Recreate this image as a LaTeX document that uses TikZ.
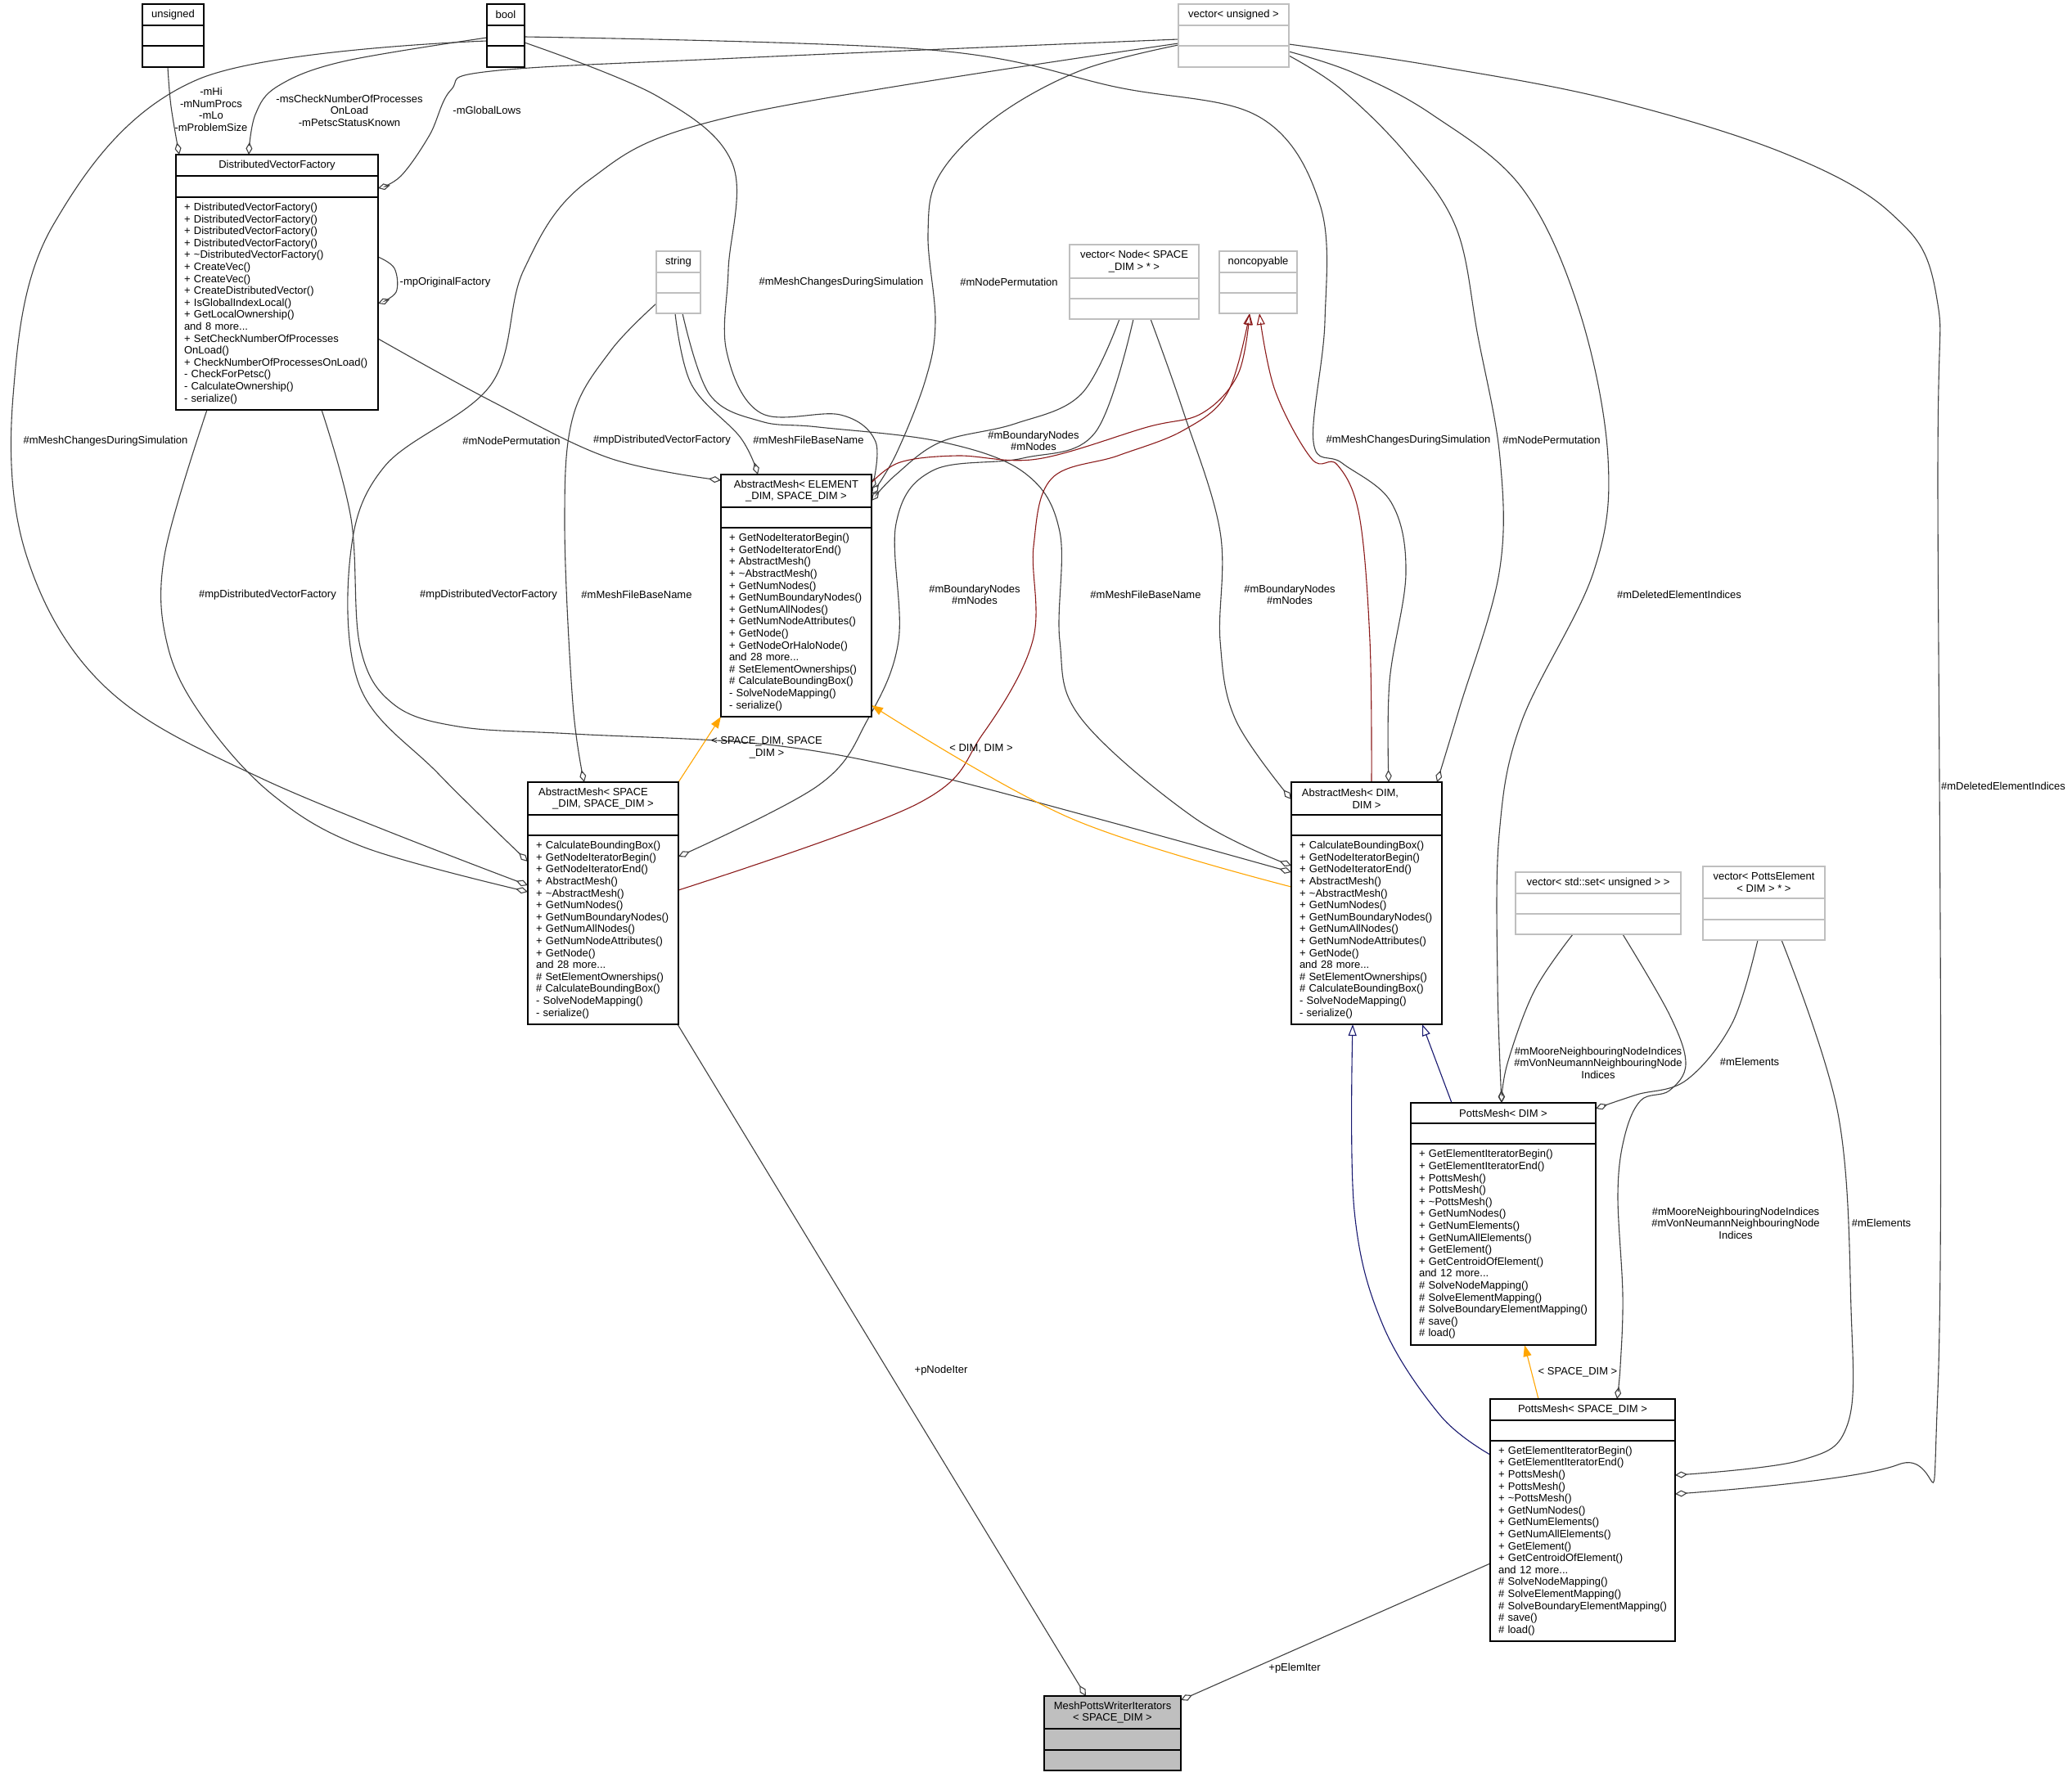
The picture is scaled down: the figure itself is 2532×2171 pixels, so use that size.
\documentclass[tikz,border=0pt]{standalone}
\usepackage{fontspec}
\setmainfont{Liberation Sans}
\usetikzlibrary{arrows.meta,positioning}

\definecolor{edgegray}{HTML}{404040}
\definecolor{inhred}{HTML}{8B1A1A}
\definecolor{inhblue}{HTML}{191970}
\definecolor{tmplorange}{HTML}{FFA500}
\definecolor{boxgray}{HTML}{BFBFBF}

\pgfdeclarelayer{back}
\pgfdeclarelayer{edges}
\pgfsetlayers{back,edges,main}

\newcommand{\umlfont}{\fontsize{13pt}{14.6pt}\selectfont}

\newcommand{\dvfops}{%
+~DistributedVectorFactory()\\
+~DistributedVectorFactory()\\
+~DistributedVectorFactory()\\
+~DistributedVectorFactory()\\
+~\textasciitilde DistributedVectorFactory()\\
+~CreateVec()\\
+~CreateVec()\\
+~CreateDistributedVector()\\
+~IsGlobalIndexLocal()\\
+~GetLocalOwnership()\\
and~8~more...\\
+~SetCheckNumberOfProcesses\\
OnLoad()\\
+~CheckNumberOfProcessesOnLoad()\\
-~CheckForPetsc()\\
-~CalculateOwnership()\\
-~serialize()}

\newcommand{\elemops}{%
+~GetNodeIteratorBegin()\\
+~GetNodeIteratorEnd()\\
+~AbstractMesh()\\
+~\textasciitilde AbstractMesh()\\
+~GetNumNodes()\\
+~GetNumBoundaryNodes()\\
+~GetNumAllNodes()\\
+~GetNumNodeAttributes()\\
+~GetNode()\\
+~GetNodeOrHaloNode()\\
and~28~more...\\
\#~SetElementOwnerships()\\
\#~CalculateBoundingBox()\\
-~SolveNodeMapping()\\
-~serialize()}

\newcommand{\meshops}{%
+~CalculateBoundingBox()\\
+~GetNodeIteratorBegin()\\
+~GetNodeIteratorEnd()\\
+~AbstractMesh()\\
+~\textasciitilde AbstractMesh()\\
+~GetNumNodes()\\
+~GetNumBoundaryNodes()\\
+~GetNumAllNodes()\\
+~GetNumNodeAttributes()\\
+~GetNode()\\
and~28~more...\\
\#~SetElementOwnerships()\\
\#~CalculateBoundingBox()\\
-~SolveNodeMapping()\\
-~serialize()}

\newcommand{\pottsops}{%
+~GetElementIteratorBegin()\\
+~GetElementIteratorEnd()\\
+~PottsMesh()\\
+~PottsMesh()\\
+~\textasciitilde PottsMesh()\\
+~GetNumNodes()\\
+~GetNumElements()\\
+~GetNumAllElements()\\
+~GetElement()\\
+~GetCentroidOfElement()\\
and~12~more...\\
\#~SolveNodeMapping()\\
\#~SolveElementMapping()\\
\#~SolveBoundaryElementMapping()\\
\#~save()\\
\#~load()}

\begin{document}
\begin{tikzpicture}[x=1pt, y=-1pt, every node/.style={font=\umlfont},
    clsbox/.style={draw=black, line width=1.4pt, fill=white, inner sep=0pt, outer sep=0pt, align=center},
    extbox/.style={clsbox, draw=boxgray},
    ops/.style={clsbox, align=left, text width=#1},
    lbl/.style={inner sep=0pt, align=center},
    member/.style={edgegray, line width=1.1pt, smooth, tension=0.6, -{Diamond[open, length=15pt, width=8pt]}},
    base/.style={line width=1.1pt, smooth, tension=0.6, -{Triangle[open, length=14pt, width=10pt]}},
    tmpl/.style={tmplorange, line width=1.1pt, smooth, tension=0.6, -{Triangle[length=14pt, width=10pt]}}]

\useasboundingbox (0,0) rectangle (2532,2171);
\begin{pgfonlayer}{back}
  \fill[white] (0,0) rectangle (2532,2171);
\end{pgfonlayer}

% top row
\node[clsbox, anchor=north west, minimum width=75pt, minimum height=26pt] (unsigned) at (174,5) {unsigned};
\node[clsbox, below=0pt of unsigned, minimum width=75pt, minimum height=25pt] (unsigned-a) {};
\node[clsbox, below=0pt of unsigned-a, minimum width=75pt, minimum height=26pt] (unsigned-m) {};

\node[clsbox, anchor=north west, minimum width=46pt, minimum height=26pt] (bool) at (595,5) {bool};
\node[clsbox, below=0pt of bool, minimum width=46pt, minimum height=25pt] (bool-a) {};
\node[clsbox, below=0pt of bool-a, minimum width=46pt, minimum height=26pt] (bool-m) {};

\node[extbox, anchor=north west, minimum width=135pt, minimum height=26pt] (vecuns) at (1440,5) {vector< unsigned >};
\node[extbox, below=0pt of vecuns, minimum width=135pt, minimum height=25pt] (vecuns-a) {};
\node[extbox, below=0pt of vecuns-a, minimum width=135pt, minimum height=26pt] (vecuns-m) {};

% factory
\node[clsbox, anchor=north west, minimum width=247pt, minimum height=26pt] (dvf) at (215,189) {DistributedVectorFactory};
\node[clsbox, below=0pt of dvf, minimum width=247pt, minimum height=26pt] (dvf-a) {};
\node[ops=227pt, below=0pt of dvf-a, minimum width=247pt, minimum height=260pt] (dvf-m) {\dvfops};

% member types
\node[extbox, anchor=north west, minimum width=54pt, minimum height=26pt] (string) at (802,307) {string};
\node[extbox, below=0pt of string, minimum width=54pt, minimum height=25pt] (string-a) {};
\node[extbox, below=0pt of string-a, minimum width=54pt, minimum height=25pt] (string-m) {};

\node[extbox, anchor=north west, minimum width=158pt, minimum height=41pt] (vecnode) at (1307,299) {vector< Node< SPACE\\\_DIM > * >};
\node[extbox, below=0pt of vecnode, minimum width=158pt, minimum height=25pt] (vecnode-a) {};
\node[extbox, below=0pt of vecnode-a, minimum width=158pt, minimum height=25pt] (vecnode-m) {};

\node[extbox, anchor=north west, minimum width=95pt, minimum height=26pt] (noncop) at (1490,307) {noncopyable};
\node[extbox, below=0pt of noncop, minimum width=95pt, minimum height=25pt] (noncop-a) {};
\node[extbox, below=0pt of noncop-a, minimum width=95pt, minimum height=25pt] (noncop-m) {};

% abstract meshes
\node[clsbox, anchor=north west, minimum width=184pt, minimum height=40pt] (ame) at (881,580) {AbstractMesh< ELEMENT\\\_DIM, SPACE\_DIM >};
\node[clsbox, below=0pt of ame, minimum width=184pt, minimum height=25pt] (ame-a) {};
\node[ops=164pt, below=0pt of ame-a, minimum width=184pt, minimum height=231pt] (ame-m) {\elemops};

\node[clsbox, anchor=north west, minimum width=184pt, minimum height=40pt] (ams) at (645,956) {AbstractMesh< SPACE\hspace*{24pt}\\\_DIM, SPACE\_DIM >};
\node[clsbox, below=0pt of ams, minimum width=184pt, minimum height=25pt] (ams-a) {};
\node[ops=164pt, below=0pt of ams-a, minimum width=184pt, minimum height=231pt] (ams-m) {\meshops};

\node[clsbox, anchor=north west, minimum width=184pt, minimum height=40pt] (amd) at (1578,956) {AbstractMesh< DIM,\hspace*{40pt}\\DIM >};
\node[clsbox, below=0pt of amd, minimum width=184pt, minimum height=25pt] (amd-a) {};
\node[ops=164pt, below=0pt of amd-a, minimum width=184pt, minimum height=231pt] (amd-m) {\meshops};

% potts side
\node[extbox, anchor=north west, minimum width=202pt, minimum height=26pt] (vecset) at (1852,1066) {vector< std::set< unsigned > >};
\node[extbox, below=0pt of vecset, minimum width=202pt, minimum height=25pt] (vecset-a) {};
\node[extbox, below=0pt of vecset-a, minimum width=202pt, minimum height=25pt] (vecset-m) {};

\node[extbox, anchor=north west, minimum width=149pt, minimum height=39pt] (vecelem) at (2081,1059) {vector< PottsElement\\< DIM > * >};
\node[extbox, below=0pt of vecelem, minimum width=149pt, minimum height=26pt] (vecelem-a) {};
\node[extbox, below=0pt of vecelem-a, minimum width=149pt, minimum height=25pt] (vecelem-m) {};

\node[clsbox, anchor=north west, minimum width=226pt, minimum height=25pt] (pmd) at (1724,1348) {PottsMesh< DIM >};
\node[clsbox, below=0pt of pmd, minimum width=226pt, minimum height=25pt] (pmd-a) {};
\node[ops=206pt, below=0pt of pmd-a, minimum width=226pt, minimum height=246pt] (pmd-m) {\pottsops};

\node[clsbox, anchor=north west, minimum width=226pt, minimum height=26pt] (pms) at (1821,1710) {PottsMesh< SPACE\_DIM >};
\node[clsbox, below=0pt of pms, minimum width=226pt, minimum height=25pt] (pms-a) {};
\node[ops=206pt, below=0pt of pms-a, minimum width=226pt, minimum height=245pt] (pms-m) {\pottsops};

% the class itself
\node[clsbox, fill=boxgray, anchor=north west, minimum width=167pt, minimum height=40pt] (writer) at (1276,2073) {MeshPottsWriterIterators\\< SPACE\_DIM >};
\node[clsbox, fill=boxgray, below=0pt of writer, minimum width=167pt, minimum height=26pt] (writer-a) {};
\node[clsbox, fill=boxgray, below=0pt of writer-a, minimum width=167pt, minimum height=25pt] (writer-m) {};

\begin{pgfonlayer}{edges}
% into the factory
\draw[member] plot coordinates {(205,0 |- unsigned-m.south) (209,130) (219,0 |- dvf.north)};
\draw[member] plot coordinates {(bool-a.west |- 0,46) (420,75) (340,105) (312,140) (304,0 |- dvf.north)};
\draw[member] plot coordinates {(vecuns-a.west |- 0,48) (900,71) (600,87) (551,110) (525,165) (490,215) (dvf-a.east |- 0,230)};
\draw[member] plot coordinates {(dvf-m.east |- 0,314) (482,328) (484,357) (dvf-m.east |- 0,371)};

% into AbstractMesh< SPACE_DIM, SPACE_DIM >
\draw[member] plot coordinates {(bool-a.west |- 0,50) (242,97) (65,275) (16,484) (32,678) (129,840) (323,953) (ams-m.west |- 0,1082)};
\draw[member] plot coordinates {(vecuns-a.west |- 0,53) (900,141) (720,220) (640,330) (600,470) (470,570) (428,680) (440,840) (536,946) (ams-m.west |- 0,1053)};
\draw[member] plot coordinates {(253,0 |- dvf-m.south) (201,679) (205,790) (250,880) (335,973) (446,1036) (ams-m.west |- 0,1090)};
\draw[member] plot coordinates {(string-m.west |- 0,371) (746,429) (700,510) (690,640) (700,860) (714,0 |- ams.north)};
\draw[member] plot coordinates {(1385,0 |- vecnode-m.south) (1338,529) (1250,560) (1140,575) (1095,640) (1098,783) (1060,880) (1000,960) (ams-m.east |- 0,1047)};

% into AbstractMesh< ELEMENT_DIM, SPACE_DIM >
\draw[member] plot coordinates {(bool-a.east |- 0,52) (804,118) (895,200) (890,330) (888,430) (930,505) (1027,507) (1070,540) (ame.east |- 0,598)};
\draw[member] plot coordinates {(vecuns-a.west |- 0,55) (1321,86) (1217,143) (1148,214) (1134,286) (1143,393) (1131,464) (1095,555) (ame.east |- 0,604)};
\draw[member] plot coordinates {(dvf-m.east |- 0,414) (600,490) (745,560) (ame.west |- 0,587)};
\draw[member] plot coordinates {(825,0 |- string-m.south) (845,470) (905,535) (926,0 |- ame.north)};
\draw[member] plot coordinates {(1368,0 |- vecnode-m.south) (1321,482) (1240,518) (1150,540) (1095,580) (ame.east |- 0,612)};

% into AbstractMesh< DIM, DIM >
\draw[member] plot coordinates {(bool-a.east |- 0,45) (1137,61) (1367,107) (1539,143) (1613,250) (1619,393) (1605,540) (1640,566) (1700,614) (1718,700) (1698,833) (1697,0 |- amd.north)};
\draw[member] plot coordinates {(vecuns-a.east |- 0,68) (1640,110) (1720,190) (1780,280) (1806,411) (1833,560) (1832,700) (1783,867) (1756,0 |- amd.north)};
\draw[member] plot coordinates {(393,0 |- dvf-m.south) (429,634) (440,790) (480,860) (560,888) (700,897) (937,910) (1120,943) (1339,1000) (amd-m.west |- 0,1066)};
\draw[member] plot coordinates {(834,0 |- string-m.south) (867,482) (930,515) (1000,522) (1150,540) (1252,578) (1295,650) (1295,783) (1321,878) (1460,1000) (amd-m.west |- 0,1058)};
\draw[member] plot coordinates {(1406,0 |- vecnode-m.south) (1445,500) (1491,650) (1491,783) (1510,880) (amd.west |- 0,977)};

% into the Potts meshes
\draw[member] plot coordinates {(vecuns-a.east |- 0,63) (1654,89) (1750,140) (1860,230) (1930,380) (1965,560) (1947,700) (1859,883) (1832,1020) (1830,1200) (1835,0 |- pmd.north)};
\draw[member] plot coordinates {(vecuns-a.east |- 0,54) (1750,80) (1965,121) (2177,186) (2310,260) (2366,360) (2368,600) (2368,1700) (2320,1790) (pms-m.east |- 0,1826)};
\draw[member] plot coordinates {(1922,0 |- vecset-m.south) (1875,1211) (1842,1300) (1835,0 |- pmd.north)};
\draw[member] plot coordinates {(1983,0 |- vecset-m.south) (2040,1240) (2060,1300) (2040,1333) (2005,1345) (1985,1390) (1977,1460) (1983,1583) (1980,1670) (1976,0 |- pms.north)};
\draw[member] plot coordinates {(2148,0 |- vecelem-m.south) (2117,1250) (2061,1320) (2000,1338) (pmd.east |- 0,1355)};
\draw[member] plot coordinates {(2177,0 |- vecelem-m.south) (2246,1361) (2262,1600) (2258,1740) (2200,1785) (pms-m.east |- 0,1803)};

% into the writer
\draw[member] (828,0 |- ams-m.south) -- (1327,0 |- writer.north);
\draw[member] (pms-m.west |- 0,1911) -- (writer.east |- 0,2078);

% inheritance
\draw[base, inhred] plot coordinates {(ams-m.east |- 0,1088) (1120,983) (1201,897) (1262,783) (1263,668) (1285,585) (1366,557) (1446,526) (1500,480) (1527,0 |- noncop-m.south)};
\draw[base, inhred] plot coordinates {(ame.east |- 0,590) (1100,565) (1170,557) (1268,561) (1402,522) (1469,505) (1513,457) (1527,0 |- noncop-m.south)};
\draw[base, inhred] plot coordinates {(1676,0 |- amd.north) (1674,783) (1661,630) (1634,568) (1603,561) (1558,477) (1539,0 |- noncop-m.south)};
\draw[base, inhblue] (1774,0 |- pmd.north) -- (1738,0 |- amd-m.south);
\draw[base, inhblue] plot coordinates {(pms-m.west |- 0,1778) (1760,1730) (1690,1620) (1655,1480) (1653,0 |- amd-m.south)};

% template instances
\draw[tmpl] (ams.north east) -- (ame-m.south west);
\draw[tmpl] plot coordinates {(amd-m.west |- 0,1084) (1308,1000) (ame-m.east |- 0,862)};
\draw[tmpl] (1880,0 |- pms.north) -- (1863,0 |- pmd-m.south);
\end{pgfonlayer}

% edge labels
\node[lbl] (l-hi) at (258,134) {-mHi\\-mNumProcs\\-mLo\\-mProblemSize};
\node[lbl] (l-check) at (427,135) {-msCheckNumberOfProcesses\\OnLoad\\-mPetscStatusKnown};
\node[lbl] (l-lows) at (595,135) {-mGlobalLows};
\node[lbl] (l-orig) at (544,345) {-mpOriginalFactory};
\node[lbl] (l-chg1) at (129,539) {\#mMeshChangesDuringSimulation};
\node[lbl] (l-perm1) at (625,539) {\#mNodePermutation};
\node[lbl] (l-fac1) at (327,727) {\#mpDistributedVectorFactory};
\node[lbl] (l-fac3) at (597,727) {\#mpDistributedVectorFactory};
\node[lbl] (l-file1) at (778,727) {\#mMeshFileBaseName};
\node[lbl] (l-fac2) at (809,538) {\#mpDistributedVectorFactory};
\node[lbl] (l-file2) at (988,538) {\#mMeshFileBaseName};
\node[lbl] (l-chg2) at (1028,345) {\#mMeshChangesDuringSimulation};
\node[lbl] (l-perm2) at (1233,345) {\#mNodePermutation};
\node[lbl] (l-nodes2) at (1263,539) {\#mBoundaryNodes\\\#mNodes};
\node[lbl] (l-nodes1) at (1191,727) {\#mBoundaryNodes\\\#mNodes};
\node[lbl] (l-file3) at (1400,727) {\#mMeshFileBaseName};
\node[lbl] (l-nodes3) at (1576,727) {\#mBoundaryNodes\\\#mNodes};
\node[lbl] (l-chg3) at (1721,538) {\#mMeshChangesDuringSimulation};
\node[lbl] (l-perm3) at (1896,538) {\#mNodePermutation};
\node[lbl] (l-del1) at (2052,727) {\#mDeletedElementIndices};
\node[lbl] (l-del2) at (2448,961) {\#mDeletedElementIndices};
\node[lbl] (l-tss) at (937,914) {< SPACE\_DIM, SPACE\\\_DIM >};
\node[lbl] (l-tdd) at (1199,915) {< DIM, DIM >};
\node[lbl] (l-nbr1) at (1953,1299) {\#mMooreNeighbouringNodeIndices\\\#mVonNeumannNeighbouringNode\\Indices};
\node[lbl] (l-el1) at (2138,1298) {\#mElements};
\node[lbl] (l-nbr2) at (2121,1495) {\#mMooreNeighbouringNodeIndices\\\#mVonNeumannNeighbouringNode\\Indices};
\node[lbl] (l-el2) at (2299,1495) {\#mElements};
\node[lbl] (l-tsp) at (1928,1677) {< SPACE\_DIM >};
\node[lbl] (l-node) at (1150,1675) {+pNodeIter};
\node[lbl] (l-elem) at (1582,2039) {+pElemIter};
\end{tikzpicture}
\end{document}
